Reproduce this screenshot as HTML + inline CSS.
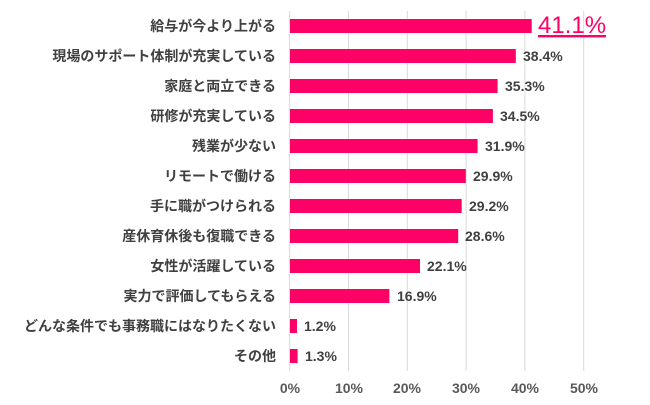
<!DOCTYPE html>
<html><head><meta charset="utf-8"><style>
body{margin:0;background:#fff;}
svg text{font-family:"Liberation Sans","Noto Sans CJK JP",sans-serif;}
</style></head><body>
<svg width="650" height="400" xmlns="http://www.w3.org/2000/svg">
<g stroke="#d9d9d9" stroke-width="1">
<line x1="289.7" y1="11" x2="289.7" y2="371"/>
<line x1="348.5" y1="11" x2="348.5" y2="371"/>
<line x1="407.3" y1="11" x2="407.3" y2="371"/>
<line x1="466.1" y1="11" x2="466.1" y2="371"/>
<line x1="524.9" y1="11" x2="524.9" y2="371"/>
<line x1="583.7" y1="11" x2="583.7" y2="371"/>
</g>
<g font-size="14" fill="#595959" font-weight="bold" text-anchor="middle">
<text x="290" y="393">0%</text><text x="349" y="393">10%</text><text x="407" y="393">20%</text><text x="466" y="393">30%</text><text x="525" y="393">40%</text><text x="584" y="393">50%</text>
</g>
<g fill="#ff0066">
<rect x="290" y="19" width="241.7" height="14"/>
<rect x="290" y="49" width="225.8" height="14"/>
<rect x="290" y="79" width="207.6" height="14"/>
<rect x="290" y="109" width="202.9" height="14"/>
<rect x="290" y="139" width="187.6" height="14"/>
<rect x="290" y="169" width="175.8" height="14"/>
<rect x="290" y="199" width="171.7" height="14"/>
<rect x="290" y="229" width="168.2" height="14"/>
<rect x="290" y="259" width="130" height="14"/>
<rect x="290" y="289" width="99.4" height="14"/>
<rect x="290" y="319" width="7" height="14"/>
<rect x="290" y="349" width="7.6" height="14"/>
</g>
<g font-size="14" fill="#404040" font-weight="bold" text-anchor="end">
<text x="276" y="31">給与が今より上がる</text>
<text x="276" y="61">現場のサポート体制が充実している</text>
<text x="276" y="91">家庭と両立できる</text>
<text x="276" y="121">研修が充実している</text>
<text x="276" y="151">残業が少ない</text>
<text x="276" y="181">リモートで働ける</text>
<text x="276" y="211">手に職がつけられる</text>
<text x="276" y="241">産休育休後も復職できる</text>
<text x="276" y="271">女性が活躍している</text>
<text x="276" y="301">実力で評価してもらえる</text>
<text x="276" y="331">どんな条件でも事務職にはなりたくない</text>
<text x="276" y="361">その他</text>
</g>
<text x="538" y="33" font-size="24" fill="#ff0066" text-decoration="underline">41.1%</text>
<g font-size="14" fill="#404040" font-weight="bold">
<text x="523" y="61">38.4%</text>
<text x="505" y="91">35.3%</text>
<text x="500" y="121">34.5%</text>
<text x="485" y="151">31.9%</text>
<text x="473" y="181">29.9%</text>
<text x="469" y="211">29.2%</text>
<text x="465" y="241">28.6%</text>
<text x="427" y="271">22.1%</text>
<text x="397" y="301">16.9%</text>
<text x="304" y="331">1.2%</text>
<text x="305" y="361">1.3%</text>
</g>
</svg>
</body></html>
